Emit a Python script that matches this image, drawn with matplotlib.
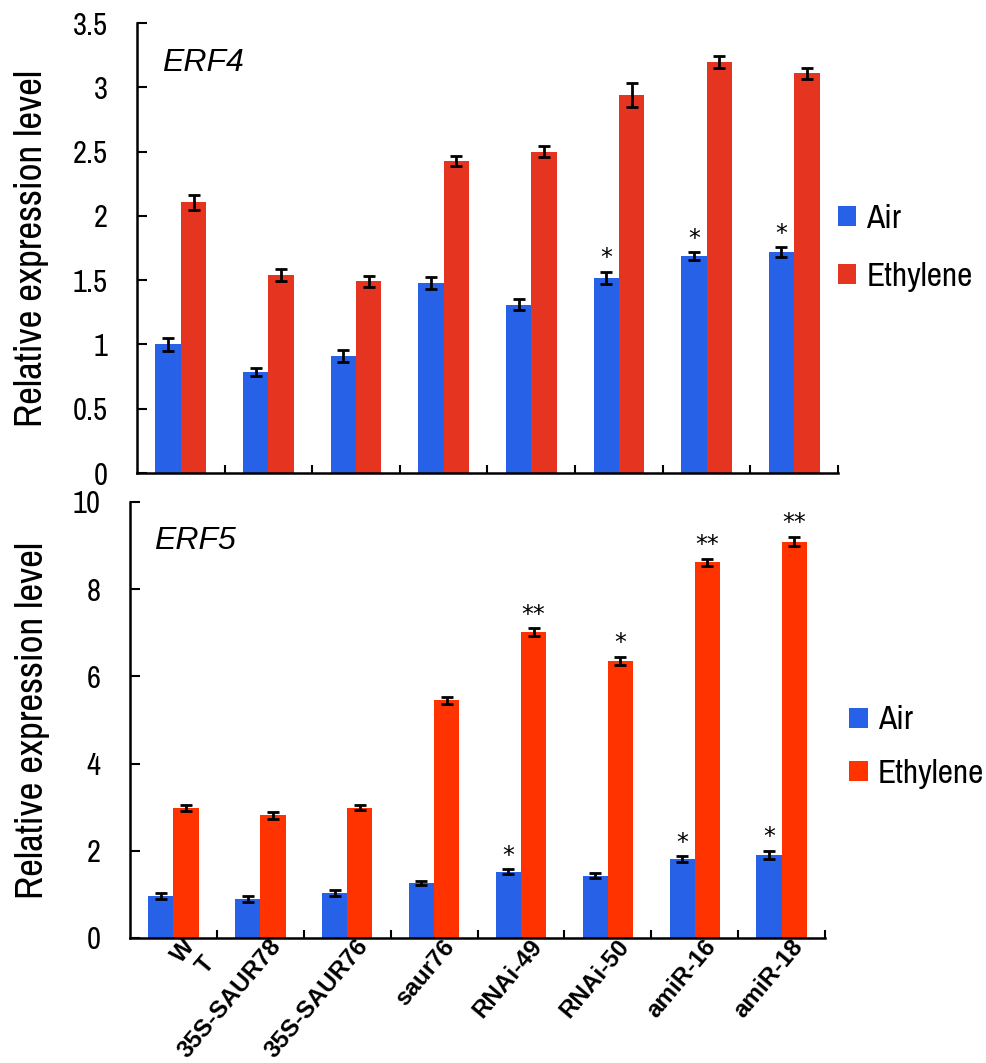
import numpy as np
import matplotlib
matplotlib.use("Agg")
import matplotlib.pyplot as plt
from matplotlib.ticker import FuncFormatter, FixedLocator
import matplotlib.transforms as mtransforms

plt.rcParams['font.family'] = ['Archivo Narrow', 'Liberation Sans', 'DejaVu Sans']

# data
lines = ['W\nT', '35S-SAUR78', '35S-SAUR76', 'saur76', 'RNAi-49', 'RNAi-50', 'amiR-16', 'amiR-18']

erf4_air = [1.00, 0.785, 0.91, 1.48, 1.31, 1.52, 1.69, 1.72]
erf4_air_err = [0.05, 0.03, 0.05, 0.045, 0.04, 0.047, 0.03, 0.036]
erf4_eth = [2.105, 1.54, 1.49, 2.425, 2.50, 2.94, 3.20, 3.11]
erf4_eth_err = [0.06, 0.045, 0.045, 0.04, 0.045, 0.09, 0.047, 0.043]
erf4_air_sig = ['', '', '', '', '', '*', '*', '*']
erf4_eth_sig = ['', '', '', '', '', '', '', '']

erf5_air = [0.96, 0.90, 1.03, 1.26, 1.52, 1.43, 1.81, 1.91]
erf5_air_err = [0.07, 0.07, 0.06, 0.04, 0.06, 0.05, 0.07, 0.09]
erf5_eth = [2.99, 2.81, 2.99, 5.45, 7.02, 6.35, 8.62, 9.09]
erf5_eth_err = [0.07, 0.085, 0.06, 0.08, 0.09, 0.10, 0.08, 0.11]
erf5_air_sig = ['', '', '', '', '*', '', '*', '*']
erf5_eth_sig = ['', '', '', '', '**', '*', '**', '**']

blue = '#2661E8'
red_top = '#E5341F'
red_bot = '#FF3300'

fig = plt.figure(figsize=(9.87, 10.63), dpi=100)
ax1 = fig.add_axes([0.1388, 0.555, 0.7102, 0.4233])
ax2 = fig.add_axes([0.1317, 0.1176, 0.7042, 0.4102])

w = 0.29
x = np.arange(len(lines))


def panel(ax, air, air_err, eth, eth_err, air_sig, eth_sig, red, ymax, ystep, gene, leg_xy, leg_space):
    ax.bar(x - w / 2, air, w, color=blue, label='Air', zorder=2)
    ax.bar(x + w / 2, eth, w, color=red, label='Ethylene', zorder=2)
    ax.errorbar(x - w / 2, air, yerr=air_err, fmt='none', ecolor='black',
                elinewidth=2.0, capsize=4.5, capthick=2.0, zorder=3)
    ax.errorbar(x + w / 2, eth, yerr=eth_err, fmt='none', ecolor='black',
                elinewidth=2.0, capsize=4.5, capthick=2.0, zorder=3)
    for xs, vals, errs, sigs in [(x - w / 2, air, air_err, air_sig), (x + w / 2, eth, eth_err, eth_sig)]:
        for xi, v, e, s in zip(xs, vals, errs, sigs):
            if s:
                ax.annotate(s, (xi, v + e), xytext=(0, 1), textcoords='offset points',
                            ha='center', va='bottom', fontsize=17, family='DejaVu Sans')

    ax.set_xlim(-0.5, len(lines) - 0.5)
    ax.set_ylim(0, ymax)
    ax.set_yticks(np.arange(0, ymax + ystep / 2, ystep))
    ax.yaxis.set_major_formatter(FuncFormatter(lambda v, p: '%g' % v))
    ax.spines['top'].set_visible(False)
    ax.spines['right'].set_visible(False)
    ax.spines['left'].set_linewidth(1.8)
    ax.spines['bottom'].set_linewidth(1.8)
    ax.tick_params(axis='y', direction='in', length=7, width=1.5, pad=21, labelsize=22)
    ax.xaxis.set_minor_locator(FixedLocator(np.arange(0.5, len(lines), 1.0)))
    ax.tick_params(axis='x', which='minor', direction='in', length=6, width=1.5)
    ax.tick_params(axis='x', which='major', length=0)
    ax.set_ylabel('Relative expression level', fontsize=28)
    ax.text(0.035, 0.945, gene, transform=ax.transAxes, fontsize=23, style='italic',
            ha='left', va='top', family='Liberation Sans')
    ax.legend(loc='center left', bbox_to_anchor=leg_xy, frameon=False, fontsize=24,
              handlelength=0.55, handleheight=0.55, handletextpad=0.3,
              labelspacing=leg_space, borderpad=0, borderaxespad=0)


panel(ax1, erf4_air, erf4_air_err, erf4_eth, erf4_eth_err, erf4_air_sig, erf4_eth_sig,
      red_top, 3.5, 0.5, 'ERF4', (1.0, 0.50), 0.85)
panel(ax2, erf5_air, erf5_air_err, erf5_eth, erf5_eth_err, erf5_air_sig, erf5_eth_sig,
      red_bot, 10, 2, 'ERF5', (1.035, 0.438), 0.7)

ax1.set_xticks(x)
ax1.set_xticklabels([])
ax1.yaxis.set_label_coords(-0.125, 0.5)
ax2.yaxis.set_label_coords(-0.115, 0.5)

ax2.set_xticks(x)
ax2.set_xticklabels(lines, rotation=50, ha='right', va='top', rotation_mode='anchor',
                    fontsize=17.5, fontweight='bold', multialignment='right',
                    family=['Liberation Sans', 'DejaVu Sans'])
ax2.tick_params(axis='x', which='major', pad=0)
shift = mtransforms.ScaledTranslation(0.08, 0.03, fig.dpi_scale_trans)
for lab in ax2.get_xticklabels():
    lab.set_transform(lab.get_transform() + shift)

fig.savefig('out.png', dpi=100)
